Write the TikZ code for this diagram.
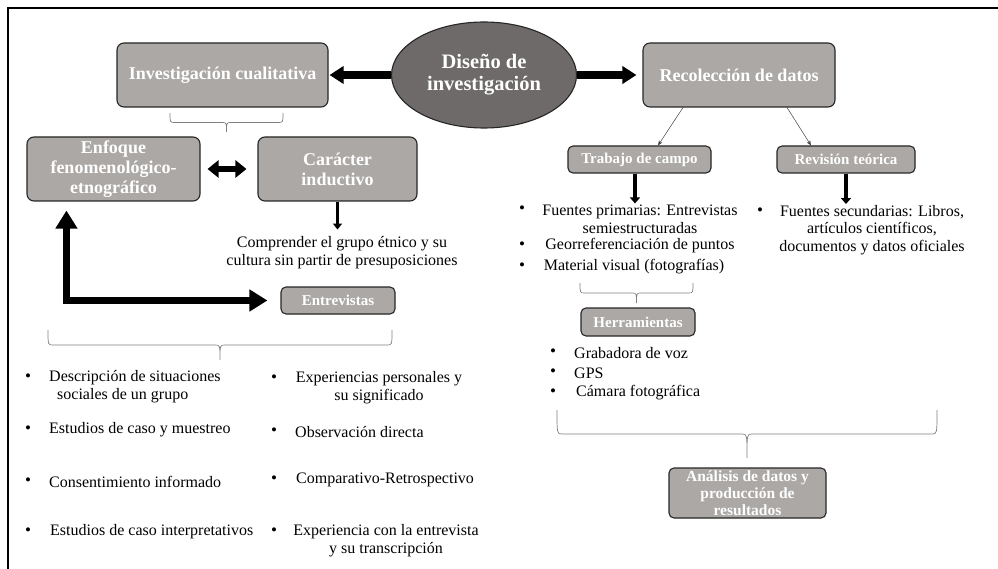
\documentclass[tikz,border=0pt]{standalone}
\usepackage{fontspec}
\setmainfont{Liberation Serif}
\usetikzlibrary{arrows.meta,shapes.geometric,calc}

\definecolor{boxgray}{HTML}{ABA8A6}
\definecolor{ovalgray}{HTML}{6E6A69}

% curly brace: left x, right x, top y, tip y
\newcommand{\curlybr}[4]{%
  \pgfmathsetmacro{\bmid}{(#1+#2)/2}
  \pgfmathsetmacro{\bbar}{(#3+#4)/2}
  \draw[brc] (#1,#3) .. controls (#1,\bbar) .. (#1+5,\bbar) -- (\bmid-5,\bbar)
    .. controls (\bmid,\bbar) .. (\bmid,#4) .. controls (\bmid,\bbar) .. (\bmid+5,\bbar)
    -- (#2-5,\bbar) .. controls (#2,\bbar) .. (#2,#3);
}

\begin{document}
\begin{tikzpicture}[x=1pt, y=-1pt,
  gbox/.style={draw=black!85, line width=1.1pt, fill=boxgray, rounded corners=7pt,
    text=white, align=center, inner sep=0pt, font=\fontsize{18}{20}\selectfont\bfseries},
  sbox/.style={gbox, rounded corners=5pt, font=\fontsize{15}{17}\selectfont\bfseries},
  txt/.style={inner sep=0pt, align=center, font=\fontsize{16}{18}\selectfont},
  dot/.style={inner sep=0pt, font=\fontsize{17}{17}\selectfont},
  fat/.style={line width=8pt, -{Triangle[length=14pt,width=17pt]}},
  mid/.style={line width=4.5pt, -{Triangle[length=6pt,width=10pt]}},
  fino/.style={gray!50!black, line width=0.5pt, -{Stealth[length=5pt,width=4pt]}},
  brc/.style={draw=gray, line width=0.7pt}
]
  \useasboundingbox (0,0) rectangle (998,569);
  \draw[line width=2pt] (8,569) -- (8,8) -- (998,8);

  % top row
  \node[gbox, ellipse, fill=ovalgray, minimum width=185pt, minimum height=106pt,
    font=\fontsize{20.5}{22}\selectfont\bfseries] (diseno) at (484,75) {Diseño de\\investigación};
  \node[gbox, minimum width=211pt, minimum height=64pt] (cuali) at (222.5,75) {Investigación cualitativa};
  \node[gbox, minimum width=192pt, minimum height=64pt] (recol) at (739,75) {Recolección de datos};
  \draw[fat, shorten >=1pt] (diseno.west) -- (cuali.east);
  \draw[fat, shorten >=6pt] (diseno.east) -- (recol.west);

  % left branch
  \curlybr{170}{283}{113}{132}
  \node[gbox, minimum width=173pt, minimum height=64pt] (enfoque) at (113.5,169) {Enfoque\\fenomenológico-\\etnográfico};
  \node[gbox, minimum width=159pt, minimum height=64pt] (caracter) at (337.5,169) {Carácter\\inductivo};
  \draw[line width=6pt, {Triangle[length=11pt,width=17pt]}-{Triangle[length=11pt,width=17pt]},
    shorten <=7pt, shorten >=11pt] (enfoque.east) -- (caracter.west);
  \node[txt] (comprender) at (342,253) {Comprender el grupo étnico y su\\cultura sin partir de presuposiciones};
  \draw[line width=3pt, -{Triangle[length=6pt,width=9pt]}, shorten >=7pt] (caracter.south) -- (caracter.south |- comprender.north);
  \node[sbox, minimum width=114pt, minimum height=27pt] (entrev) at (338,300.5) {Entrevistas};
  \draw[line width=7pt, {Triangle[length=18pt,width=21pt]}-{Triangle[length=18pt,width=21pt]},
    shorten <=9pt, shorten >=13pt] ([xshift=40pt]enfoque.south west) |- (entrev.west);
  \curlybr{48}{392}{330}{360}

  \node[dot] (b1) at (28,378) {\textbullet};
  \node[txt, anchor=west, align=left] (descrip) at (49,387) {Descripción de situaciones\\\hspace*{8pt}sociales de un grupo};
  \node[dot] (b2) at (28,430) {\textbullet};
  \node[txt, anchor=west] (muestreo) at (49,430) {Estudios de caso y muestreo};
  \node[dot] (b3) at (28,482) {\textbullet};
  \node[txt, anchor=west] (consent) at (49,482) {Consentimiento informado};
  \node[dot] (b4) at (28,532) {\textbullet};
  \node[txt, anchor=west] (interp) at (50,532) {Estudios de caso interpretativos};
  \node[dot] (b5) at (274,379) {\textbullet};
  \node[txt] (experien) at (379,388) {Experiencias personales y\\su significado};
  \node[dot] (b6) at (274,432) {\textbullet};
  \node[txt, anchor=west] (observ) at (295,432) {Observación directa};
  \node[dot] (b7) at (274,480) {\textbullet};
  \node[txt, anchor=west] (compar) at (296,480) {Comparativo-Retrospectivo};
  \node[dot] (b8) at (274,532) {\textbullet};
  \node[txt] (transcr) at (386,541) {Experiencia con la entrevista\\y su transcripción};

  % right branch
  \node[sbox, minimum width=143pt, minimum height=27pt] (campo) at (639.5,159.5) {Trabajo de campo};
  \node[sbox, minimum width=138pt, minimum height=27pt] (teorica) at (846,159.5) {Revisión teórica};
  \draw[fino] ([xshift=-56pt]recol.south) -- ([xshift=18.5pt]campo.north);
  \draw[fino] ([xshift=48pt]recol.south) -- ([xshift=-35pt]teorica.north);

  \node[dot] (b9) at (522,210) {\textbullet};
  \node[txt] (primar) at (640,219) {Fuentes primarias: Entrevistas\\semiestructuradas};
  \node[dot] (b10) at (522,246) {\textbullet};
  \node[txt] (georef) at (640,246) {Georreferenciación de puntos};
  \node[dot] (b11) at (522,267) {\textbullet};
  \node[txt] (visual) at (634,267) {Material visual (fotografías)};
  \draw[mid, shorten >=1pt] ([xshift=-4.5pt]campo.south) -- ([xshift=-4.5pt]campo.south |- primar.north);

  \node[dot] (b12) at (760,212) {\textbullet};
  \node[txt, font=\fontsize{16}{17.5}\selectfont] (secund) at (872,230) {Fuentes secundarias: Libros,\\artículos científicos,\\documentos y datos oficiales};
  \draw[mid, shorten >=1pt] (teorica.south) -- (teorica.south |- secund.north);

  \curlybr{580}{693}{283}{303}
  \node[sbox, minimum width=114pt, minimum height=28pt] (herram) at (638,322) {Herramientas};
  \node[dot] (b13) at (553,353) {\textbullet};
  \node[txt, anchor=west] (grab) at (574,353) {Grabadora de voz};
  \node[dot] (b14) at (553,373) {\textbullet};
  \node[txt, anchor=west] (gps) at (574,373) {GPS};
  \node[dot] (b15) at (553,393) {\textbullet};
  \node[txt, anchor=west] (camara) at (576,393) {Cámara fotográfica};

  \curlybr{557}{937}{410}{458}
  \node[sbox, minimum width=157pt, minimum height=50pt, font=\fontsize{15.5}{17}\selectfont\bfseries] (analisis) at (747.5,493) {Análisis de datos y\\producción de\\resultados};
\end{tikzpicture}
\end{document}
